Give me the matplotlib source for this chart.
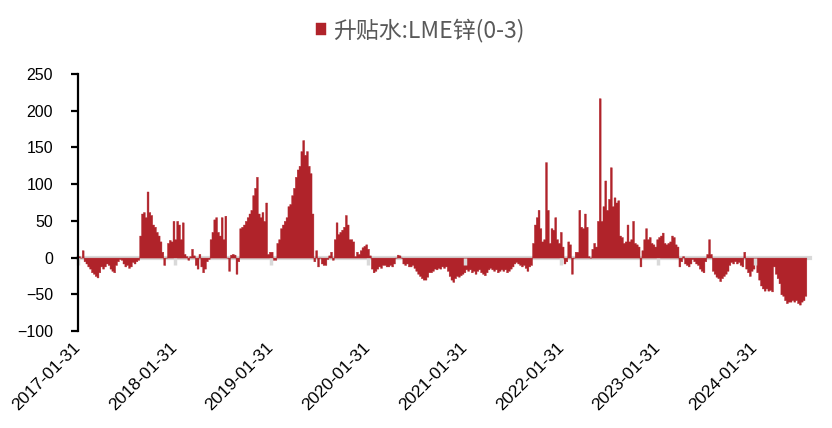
import pandas as pd
import numpy as np
import matplotlib
matplotlib.use('Agg')
import matplotlib.pyplot as plt

# weekly readings of LME zinc 0-3 spread (USD/t), starting 2017-01-31
v2017 = [2, 0, 10, -5, -8, -12, -15, -20, -22, -25, -27, -20, -12, -15, -12, -8, -10, -15, -18, -20,
         -10, -5, -2, -3, -8, -12, -10, -14, -12, -6, -8, -5, -3, 30, 60, 62, 55, 90, 62, 58,
         45, 42, 35, 30, 22, 8, -10, 0, 20, 24, 22, 50]
v2018 = [25, 50, 45, 25, 48, 5, 2, -3, 2, 12, 3, -10, -15, 5, -12, -20, -15, -5, -2, 25,
         35, 52, 55, 35, 30, 55, 25, 57, 0, -18, 4, 5, 4, -22, -5, 40, 42, 45, 50, 55,
         60, 65, 85, 95, 110, 60, 55, 62, 50, 75, 5, 8]
v2019 = [8, -3, -3, 20, 25, 40, 45, 50, 55, 70, 73, 85, 95, 110, 120, 125, 145, 160, 140, 145,
         125, 115, 60, -5, 10, -12, 0, -8, -10, -10, -2, 3, 8, -3, 25, 48, 32, 35, 38, 42,
         58, 45, 25, 25, 22, 2, 8, 5, 10, 14, 16, 18]
v2020 = [12, 3, -15, -20, -18, -15, -12, -14, -10, -10, -12, -12, -10, -12, -8, 0, 4, 3, 0, -8,
         -10, -8, -12, -12, -10, -14, -18, -22, -25, -28, -30, -30, -26, -20, -20, -18, -15, -16, -14, -15,
         -12, -14, -12, -18, -25, -30, -33, -28, -25, -26, -24, -22]
v2021 = [-20, -16, -18, -16, -20, -18, -22, -18, -16, -20, -22, -24, -20, -16, -14, -16, -18, -16, -20, -18,
         -16, -18, -16, -20, -18, -15, -12, -8, -6, -8, -10, -12, -10, -14, -18, -12, -10, 20, 45, 55,
         65, 40, 22, 25, 130, 65, 20, 40, 38, 55, 25, 20]
v2022 = [35, 15, -8, -5, 22, 18, -22, 0, 8, 8, 65, 42, 40, 60, 42, 2, 0, 12, 20, 15,
         50, 217, 50, 70, 105, 65, 80, 123, 70, 82, 75, 78, 30, 28, 20, 22, 45, 22, 25, 50,
         20, 18, 15, -12, 10, 25, 40, 25, 28, 20, 18, 15]
v2023 = [25, 28, 30, 34, 20, 18, 20, 22, 30, 28, 18, 15, -12, -5, 2, -8, -10, -12, -8, -2,
         -5, -8, -10, -15, -18, -20, -5, 5, 25, 5, -18, -22, -26, -28, -32, -28, -25, -22, -18, -10,
         -6, -8, -5, -8, -6, -10, -12, 8, -15, -20, -25, -18]
v2024 = [-15, -5, -20, -30, -38, -42, -45, -42, -45, -44, -46, -12, -22, -28, -35, -50, -52, -58, -62, -60,
         -60, -58, -60, -58, -62, -64, -60, -58, -52, -48]

spread = v2017 + v2018 + v2019 + v2020 + v2021 + v2022 + v2023 + v2024
dates = pd.date_range('2017-01-31', periods=len(spread), freq='7D')

tick_labels = ['2017-01-31', '2018-01-31', '2019-01-31', '2020-01-31',
               '2021-01-31', '2022-01-31', '2023-01-31', '2024-01-31']
y_ticks = [-100, -50, 0, 50, 100, 150, 200, 250]

red = '#B0232A'
grey_txt = '#595959'

fig = plt.figure(figsize=(8.32, 4.28), dpi=100)
ax = fig.add_axes([0.0938, 0.2266, 0.8798, 0.6005])

# step area so the weekly readings join into one solid shape
ax.fill_between(dates, spread, 0, step='post', color=red, linewidth=0.3,
                edgecolor=red, label='升贴水:LME锌(0-3)')

ax.set_ylim(-100, 250)
ax.set_yticks(y_ticks)
ax.set_xlim(pd.Timestamp('2017-01-31'), dates[-1] + pd.Timedelta(days=14))

for s in ['top', 'right']:
    ax.spines[s].set_visible(False)
ax.spines['left'].set_linewidth(1.6)
ax.spines['left'].set_color('black')
ax.spines['bottom'].set_position(('data', 0))
ax.spines['bottom'].set_color('#D9D9D9')
ax.spines['bottom'].set_linewidth(3)
ax.spines['bottom'].set_zorder(0.5)

ax.tick_params(axis='y', length=5, width=1.6, pad=13, labelsize=11.5, colors='black')
ax.tick_params(axis='x', length=5, width=2.5, color='#D9D9D9', pad=58,
               labelsize=12.5, labelcolor='black')

ax.set_xticks(pd.to_datetime(tick_labels))
ax.set_xticklabels(tick_labels, rotation=45, ha='right', va='center',
                   rotation_mode='anchor')
for lab in ax.get_xticklabels() + ax.get_yticklabels():
    lab.set_fontfamily('Liberation Sans')

leg = fig.legend(loc='center', bbox_to_anchor=(0.505, 0.93), frameon=False,
                 handlelength=0.42, handleheight=0.42, handletextpad=0.3,
                 prop={'family': ['Noto Sans CJK SC', 'DejaVu Sans'], 'size': 16.5})
for t in leg.get_texts():
    t.set_color(grey_txt)

fig.savefig('out.png', dpi=100)
